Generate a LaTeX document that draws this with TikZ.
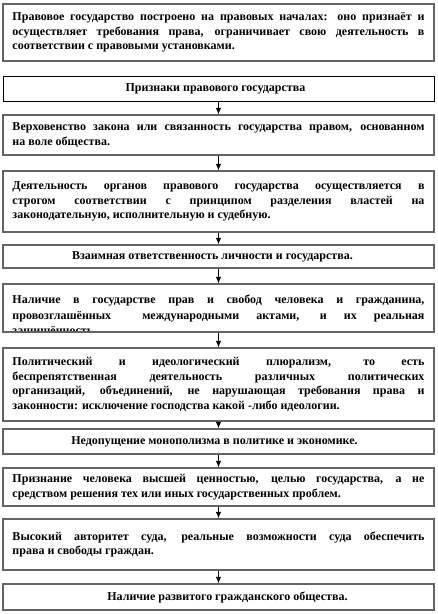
\documentclass[tikz,border=0pt]{standalone}
\usepackage{fontspec}
\setmainfont{Liberation Serif}
\usetikzlibrary{arrows.meta}
\newlength\boxtextw
\setlength\boxtextw{412pt}
\newcommand\jline[1]{\makebox[\boxtextw][s]{#1}}
\newcommand\lline[1]{\makebox[\boxtextw][l]{#1}}
\newcommand\mline[1]{\makebox[\boxtextw][c]{#1}}
\definecolor{bordergray}{RGB}{100,100,100}
\begin{document}
\begin{tikzpicture}[x=1pt,y=-1pt,
  txt/.style={font=\fontsize{12}{14.6}\selectfont\bfseries, align=left},
  box/.style={txt, draw=bordergray, line width=1.4pt, minimum width=431pt,
    inner xsep=0pt, inner ysep=0pt},
  blackbox/.style={box, draw=black, line width=1pt},
  arr/.style={line width=0.8pt, -{Latex[length=6.5pt,width=5.5pt]}}
]
\useasboundingbox (0,0) rectangle (438,614);

\node[box, minimum height=57pt] (b1) at (218.5,32.5)
 {\jline{Правовое государство построено на правовых началах: оно признаёт и}\\
  \jline{осуществляет требования права, ограничивает свою деятельность в}\\
  \lline{соответствии с правовыми установками.}};

\node[blackbox, minimum height=25pt] (b2) at (218.5,88.5)
 {\mline{Признаки правового государства\hspace{6pt}}};

\node[box, minimum height=40pt] (b3) at (218.5,135)
 {\jline{Верховенство закона или связанность государства правом, основанном}\\
  \lline{на воле общества.}};

\node[box, minimum height=61pt] (b4) at (218.5,201.5)
 {\jline{Деятельность органов правового государства осуществляется в}\\
  \jline{строгом соответствии с принципом разделения властей на}\\
  \lline{законодательную, исполнительную и судебную.}};

\node[box, minimum height=23pt] (b5) at (218.5,256.5)
 {\mline{Взаимная ответственность личности и государства.\hspace{12pt}}};

\begin{scope}
\clip (3,284.7) rectangle (434,331.3);
\node[txt, font=\fontsize{12}{15.4}\selectfont\bfseries, anchor=north, inner sep=0pt] (b6t) at (218.5,295)
 {\jline{Наличие в государстве прав и свобод человека и гражданина,}\\
  \jline{провозглашённых\hspace{14pt} международными актами, и их реальная}\\
  \lline{защищённость.}};
\end{scope}
\node[box, minimum height=48pt] (b6) at (218.5,308) {};

\node[box, minimum height=73pt] (b7) at (218.5,384.5)
 {\jline{Политический и идеологический плюрализм, то есть}\\
  \jline{беспрепятственная деятельность различных политических}\\
  \jline{организаций, объединений, не нарушающая требования права и}\\
  \lline{законности: исключение господства какой -либо идеологии.}};

\node[box, minimum height=25pt] (b8) at (218.5,441.5)
 {\mline{Недопущение монополизма в политике и экономике.\hspace{8pt}}};

\node[box, minimum height=38pt] (b9) at (218.5,487)
 {\jline{Признание человека высшей ценностью, целью государства, а не}\\
  \lline{средством решения тех или иных государственных проблем.}};

\node[box, minimum height=51pt] (b10) at (218.5,544.5)
 {\jline{Высокий авторитет суда, реальные возможности суда обеспечить}\\
  \lline{права и свободы граждан.}};

\node[box, minimum height=26pt] (b11) at (218.5,597)
 {\mline{\hspace{18pt}Наличие развитого гражданского общества.}};

\foreach \a/\b in {b2/b3,b3/b4,b4/b5,b5/b6,b6/b7,b7/b8,b8/b9,b9/b10,b10/b11}
  \draw[arr] (\a.south) -- (\b.north);
\end{tikzpicture}
\end{document}
